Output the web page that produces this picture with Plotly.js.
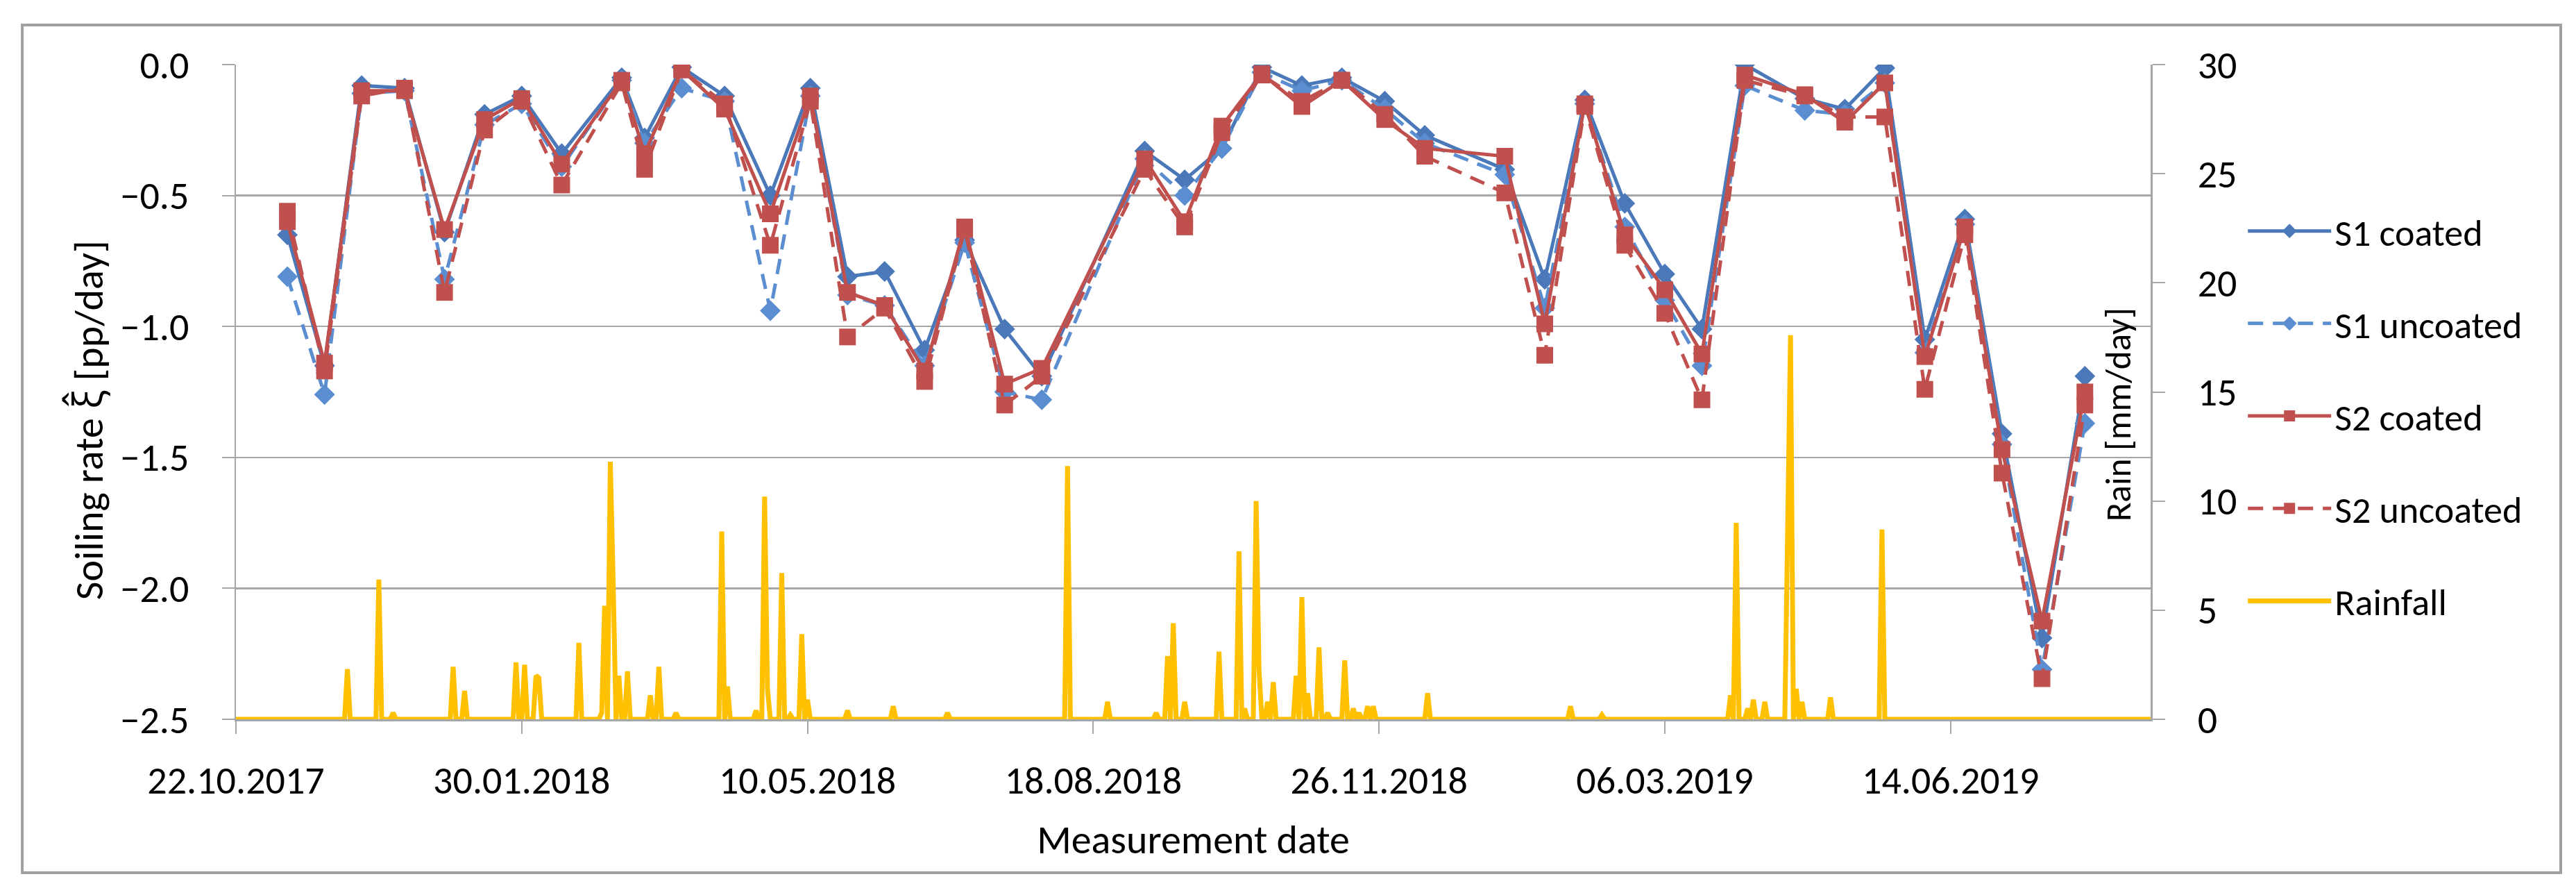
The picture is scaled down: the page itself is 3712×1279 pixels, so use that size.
<!DOCTYPE html>
<html>
<head>
<meta charset="utf-8">
<script src="https://cdn.plot.ly/plotly-3.0.1.min.js"></script>
<style>
  html, body { margin: 0; padding: 0; background: #fff; }
  #plotter { width: 3712px; height: 1279px; }
</style>
</head>
<body>
<div id="plotter"></div>
<script>
// measurement dates (every ~2 weeks)
var measDates = [
    '2017-11-09', '2017-11-22', '2017-12-05', '2017-12-20', '2018-01-03', '2018-01-17',
    '2018-01-30', '2018-02-13', '2018-03-06', '2018-03-14', '2018-03-27', '2018-04-11',
    '2018-04-27', '2018-05-11', '2018-05-24', '2018-06-06', '2018-06-20', '2018-07-04',
    '2018-07-18', '2018-07-31', '2018-09-05', '2018-09-19', '2018-10-02', '2018-10-16',
    '2018-10-30', '2018-11-13', '2018-11-28', '2018-12-12', '2019-01-09', '2019-01-23',
    '2019-02-06', '2019-02-20', '2019-03-06', '2019-03-19', '2019-04-03', '2019-04-24',
    '2019-05-08', '2019-05-22', '2019-06-05', '2019-06-19', '2019-07-02', '2019-07-16',
    '2019-07-31'
];

// soiling rates [pp/day]
var s1Coated = [
    -0.65, -1.15, -0.08, -0.09, -0.64, -0.19, -0.12, -0.34, -0.05, -0.28, -0.01, -0.12,
    -0.50, -0.09, -0.81, -0.79, -1.09, -0.67, -1.01, -1.19, -0.33, -0.44, -0.32, -0.01,
    -0.08, -0.05, -0.14, -0.27, -0.40, -0.82, -0.135, -0.53, -0.80, -1.01, 0.00, -0.13,
    -0.17, -0.013, -1.05, -0.59, -1.41, -2.19, -1.19
];
var s1Uncoated = [
    -0.81, -1.26, -0.11, -0.10, -0.82, -0.23, -0.15, -0.39, -0.06, -0.30, -0.09, -0.14,
    -0.94, -0.12, -0.88, -0.92, -1.15, -0.68, -1.25, -1.28, -0.36, -0.50, -0.32, -0.03,
    -0.10, -0.06, -0.17, -0.30, -0.42, -0.93, -0.15, -0.62, -0.90, -1.15, -0.08, -0.175,
    -0.19, -0.07, -1.10, -0.61, -1.45, -2.31, -1.37
];
var s2Coated = [
    -0.60, -1.14, -0.10, -0.10, -0.63, -0.21, -0.13, -0.38, -0.06, -0.34, -0.02, -0.17,
    -0.57, -0.12, -0.87, -0.92, -1.17, -0.62, -1.22, -1.16, -0.36, -0.60, -0.235, -0.035,
    -0.16, -0.06, -0.21, -0.32, -0.35, -0.99, -0.15, -0.65, -0.86, -1.105, -0.04, -0.115,
    -0.22, -0.07, -1.115, -0.62, -1.47, -2.125, -1.25
];
var s2Uncoated = [
    -0.56, -1.17, -0.12, -0.09, -0.87, -0.25, -0.14, -0.46, -0.07, -0.40, -0.02, -0.15,
    -0.69, -0.14, -1.04, -0.93, -1.21, -0.63, -1.30, -1.19, -0.40, -0.62, -0.26, -0.04,
    -0.14, -0.06, -0.19, -0.35, -0.49, -1.11, -0.16, -0.69, -0.95, -1.28, -0.06, -0.12,
    -0.20, -0.20, -1.24, -0.65, -1.56, -2.345, -1.30
];

// daily rainfall [mm/day], only the rainy days; all other days are 0
var rainDays = [
    '2017-11-30', '2017-12-11', '2017-12-16', '2018-01-06', '2018-01-10', '2018-01-28',
    '2018-01-31', '2018-02-04', '2018-02-05', '2018-02-19', '2018-02-27', '2018-02-28',
    '2018-03-02', '2018-03-03', '2018-03-05', '2018-03-08', '2018-03-16', '2018-03-19',
    '2018-03-25', '2018-04-10', '2018-04-12', '2018-04-22', '2018-04-25', '2018-04-26',
    '2018-05-01', '2018-05-04', '2018-05-08', '2018-05-10', '2018-05-24', '2018-06-09',
    '2018-06-28', '2018-08-09', '2018-08-23', '2018-09-09', '2018-09-13', '2018-09-15',
    '2018-09-19', '2018-10-01', '2018-10-08', '2018-10-10', '2018-10-14', '2018-10-15',
    '2018-10-18', '2018-10-20', '2018-10-28', '2018-10-30', '2018-11-01', '2018-11-05',
    '2018-11-08', '2018-11-14', '2018-11-17', '2018-11-19', '2018-11-22', '2018-11-24',
    '2018-12-13', '2019-02-01', '2019-02-12', '2019-03-29', '2019-03-31', '2019-04-04',
    '2019-04-06', '2019-04-10', '2019-04-18', '2019-04-19', '2019-04-21', '2019-04-23',
    '2019-05-03', '2019-05-21'
];
var rainMm = [
    2.3, 6.4, 0.3, 2.4, 1.3, 2.6,
    2.5, 2.0, 1.9, 3.5, 0.3, 5.2,
    11.8, 6.3, 2.0, 2.2, 1.1, 2.4,
    0.3, 8.6, 1.5, 0.4, 10.2, 1.4,
    6.7, 0.2, 3.9, 0.9, 0.4, 0.6,
    0.3, 11.6, 0.8, 0.3, 2.9, 4.4,
    0.8, 3.1, 7.7, 0.5, 10.0, 2.3,
    0.8, 1.7, 2.0, 5.6, 1.2, 3.3,
    0.3, 2.7, 0.5, 0.3, 0.6, 0.6,
    1.2, 0.6, 0.2, 1.1, 9.0, 0.5,
    0.9, 0.8, 10.7, 17.6, 1.4, 0.8,
    1.0, 8.7
];

var rainStart = '2017-10-22',
    rainEnd = '2019-08-23';

var xTickStart = '2017-10-22',
    xTickDays = 100;

var fontFam = 'Carlito, Calibri, "Open Sans", sans-serif';
var blue = '#4A78B8',
    blueLight = '#5B8ED0',
    red = '#C0504D',
    gold = '#FFC000',
    gridGray = '#A6A6A6';

var DAY = 86400000;

function fday(s) {
    return Date.parse(s + 'T00:00:00Z');
}

function fiso(t) {
    return new Date(t).toISOString().slice(0, 10);
}

// the rain series is a daily line: dry days sit on 0
function fbuildRain() {
    var xs = [rainStart],
        ys = [0];
    var last = fday(rainStart);
    for (var i = 0; i < rainDays.length; i++) {
        var t = fday(rainDays[i]);
        if (t - DAY > last) {
            xs.push(fiso(t - DAY));
            ys.push(0);
        }
        xs.push(rainDays[i]);
        ys.push(rainMm[i]);
        last = t;
        var next = i + 1 < rainDays.length ? fday(rainDays[i + 1]) : Infinity;
        if (next > t + DAY) {
            xs.push(fiso(t + DAY));
            ys.push(0);
            last = t + DAY;
        }
    }
    xs.push(rainEnd);
    ys.push(0);
    return { x: xs, y: ys };
}

function fseries(name, y, color, dash, symbol, size, group) {
    return {
        x: measDates,
        y: y,
        name: name,
        type: 'scatter',
        mode: 'lines+markers',
        legendgroup: group,
        line: { color: color, width: 5, dash: dash },
        marker: { color: color, symbol: symbol, size: size, line: { width: 0 } }
    };
}

var rain = fbuildRain();

var data = [
    fseries('S1 coated', s1Coated, blue, 'solid', 'diamond', 23, 'g1'),
    fseries('S1 uncoated', s1Uncoated, blueLight, '22px,14px', 'diamond', 23, 'g2'),
    fseries('S2 coated', s2Coated, red, 'solid', 'square', 24, 'g3'),
    fseries('S2 uncoated', s2Uncoated, red, '22px,14px', 'square', 24, 'g4'),
    {
        x: rain.x,
        y: rain.y,
        name: 'Rainfall',
        type: 'scatter',
        mode: 'lines',
        yaxis: 'y2',
        legendgroup: 'g5',
        line: { color: gold, width: 7 }
    }
];

// plot area in px: x 340..3099, y 93..1036
var layout = {
    width: 3712,
    height: 1279,
    margin: { l: 340, r: 613, t: 93, b: 243 },
    paper_bgcolor: '#fff',
    plot_bgcolor: '#fff',
    font: { family: fontFam, size: 54, color: '#000' },
    showlegend: true,
    legend: {
        x: 1.049,
        y: 0.79,
        xanchor: 'left',
        yanchor: 'top',
        font: { family: fontFam, size: 54, color: '#000' },
        tracegroupgap: 60,
        itemwidth: 120,
        bgcolor: 'rgba(0,0,0,0)'
    },
    xaxis: {
        type: 'date',
        range: [rainStart, rainEnd],
        tick0: xTickStart,
        dtick: xTickDays * DAY,
        tickformat: '%d.%m.%Y',
        ticks: 'outside',
        ticklen: 18,
        tickwidth: 2,
        tickcolor: gridGray,
        ticklabelstandoff: 19,
        showline: true,
        linecolor: gridGray,
        linewidth: 2.5,
        showgrid: false,
        zeroline: false,
        automargin: false,
        tickfont: { family: fontFam, size: 56, color: '#000' },
        title: {
            text: 'Measurement date',
            standoff: 32,
            font: { family: fontFam, size: 58, color: '#000' }
        }
    },
    yaxis: {
        range: [-2.5, 0],
        dtick: 0.5,
        tickformat: '.1f',
        ticks: 'outside',
        ticklen: 18,
        tickwidth: 2,
        tickcolor: gridGray,
        ticklabelstandoff: 36,
        showline: true,
        linecolor: gridGray,
        linewidth: 2.5,
        showgrid: true,
        gridcolor: gridGray,
        gridwidth: 2.5,
        zeroline: false,
        automargin: false,
        tickfont: { family: fontFam, size: 56, color: '#000' }
    },
    yaxis2: {
        overlaying: 'y',
        side: 'right',
        range: [0, 30],
        dtick: 5,
        ticks: 'outside',
        ticklen: 18,
        tickwidth: 2,
        tickcolor: gridGray,
        ticklabelstandoff: 36,
        showline: true,
        linecolor: gridGray,
        linewidth: 2.5,
        showgrid: false,
        zeroline: false,
        automargin: false,
        tickfont: { family: fontFam, size: 56, color: '#000' }
    },
    annotations: [
        {
            text: 'Soiling rate \u03BE\u0302 [pp/day]',
            xref: 'paper', yref: 'paper',
            x: -0.0775, y: 0.457,
            xanchor: 'center', yanchor: 'middle',
            textangle: -90,
            showarrow: false,
            font: { family: fontFam, size: 58, color: '#000' }
        },
        {
            text: 'Rain [mm/day]',
            xref: 'paper', yref: 'paper',
            x: 0.983, y: 0.4655,
            xanchor: 'center', yanchor: 'middle',
            textangle: -90,
            showarrow: false,
            font: { family: fontFam, size: 51, color: '#000' }
        }
    ],
    shapes: [
        {
            type: 'rect',
            xref: 'paper', yref: 'paper',
            x0: -0.1116, x1: 1.2142,
            y0: -0.2344, y1: 1.0604,
            line: { color: '#A0A0A0', width: 4 }
        }
    ]
};

Plotly.newPlot('plotter', data, layout, { staticPlot: true });
</script>
</body>
</html>
